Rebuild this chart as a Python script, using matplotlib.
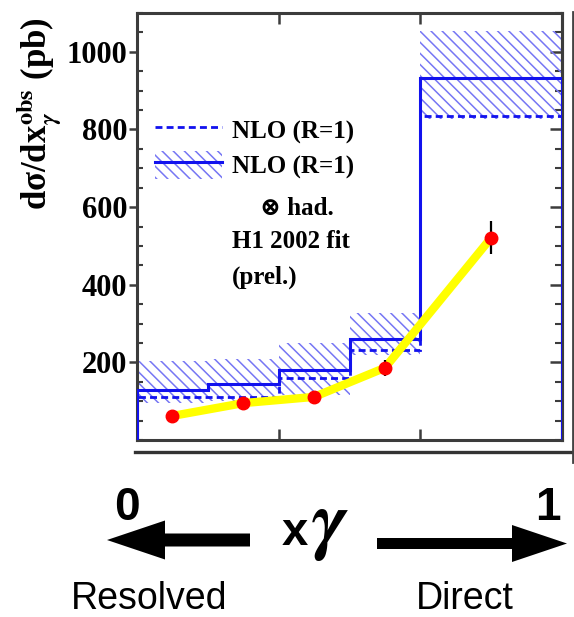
import matplotlib
matplotlib.use("Agg")
import matplotlib.pyplot as plt
from matplotlib import font_manager
from matplotlib.lines import Line2D
from matplotlib.patches import Patch, FancyArrow
from matplotlib.ticker import MultipleLocator

# x_gamma bins and NLO predictions (pb)
bin_edges = [0.1, 0.25, 0.4, 0.55, 0.7, 1.0]
nlo_had = [130, 144, 181, 260, 932]      # NLO x had. (solid)
nlo = [110, 112, 160, 232, 834]          # NLO (dashed)
band_hi = [204, 208, 250, 328, 1053]     # scale uncertainty band
band_lo = [96, 100, 116, 219, 826]

# H1 2002 fit points
fit_x = [0.175, 0.325, 0.475, 0.625, 0.85]
fit_y = [62, 95, 111, 186, 521]
fit_err = [6, 7, 8, 20, 42]

y_major = [200, 400, 600, 800, 1000]
x_major = [0.4, 0.7]

legend_labels = ["NLO (R=1)", "NLO (R=1)"]
extra_lines = ["\u2297 had.", "H1 2002 fit", "(prel.)"]

BLUE = "#1212ee"
HATCH = "#7676f4"
FRAME = "#3c3c3c"
SERIF = ["Liberation Serif", "DejaVu Serif"]

# condensed sans for the bottom annotation if available
names = {f.name for f in font_manager.fontManager.ttflist}
narrow = "Liberation Sans Narrow" in names
SANS = "Liberation Sans Narrow" if narrow else "Liberation Sans"

plt.rcParams["font.family"] = SERIF
plt.rcParams["font.weight"] = "bold"
plt.rcParams["mathtext.fontset"] = "stix"
plt.rcParams["hatch.linewidth"] = 1.1

fig = plt.figure(figsize=(5.74, 6.17), dpi=100)
ax = fig.add_axes([137 / 574, 1 - 440 / 617, 425 / 574, 427 / 617])

# uncertainty band, dashed NLO, solid NLO x had.
ax.stairs(band_hi, bin_edges, baseline=band_lo, fill=True, facecolor="none",
          edgecolor=HATCH, hatch="\\\\\\", lw=0, zorder=1)
ax.stairs(nlo, bin_edges, baseline=0, color=BLUE, lw=2.0,
          ls=(0, (2.5, 1.5)), zorder=2)
ax.stairs(nlo_had, bin_edges, baseline=0, color=BLUE, lw=2.2, zorder=3)

# fit curve + points
ax.plot(fit_x, fit_y, color="#ffff00", lw=6, solid_capstyle="round", zorder=4)
ax.errorbar(fit_x, fit_y, yerr=fit_err, fmt="o", color="red", ms=9,
            ecolor="black", elinewidth=1.6, capsize=0, zorder=5)

ax.set_xlim(bin_edges[0], bin_edges[-1])
ax.set_ylim(0, 1100)
ax.set_xticks(x_major)
ax.set_yticks(y_major)
ax.yaxis.set_minor_locator(MultipleLocator(50))
ax.tick_params(axis="x", direction="in", length=8, width=1.8, top=True,
               labelbottom=False, color=FRAME)
ax.tick_params(axis="y", which="major", direction="out", length=6, width=1.8,
               pad=1, labelsize=22, color=FRAME)
ax.tick_params(axis="y", which="minor", direction="in", length=4.5, width=1.5,
               color=FRAME)
for s in ax.spines.values():
    s.set_linewidth(2.2)
    s.set_color(FRAME)

sec = ax.secondary_yaxis("right")
sec.set_yticks(y_major)
sec.yaxis.set_minor_locator(MultipleLocator(50))
sec.tick_params(which="major", direction="in", length=9, width=1.8,
                labelright=False, color=FRAME)
sec.tick_params(which="minor", direction="in", length=5, width=1.5, color=FRAME)
sec.spines["right"].set_linewidth(2.2)
sec.spines["right"].set_color(FRAME)

ax.set_ylabel("d\u03c3/dx$_{\\gamma}^{\\mathbf{obs}}$ (pb)", fontsize=25,
              fontweight="bold")
ax.yaxis.set_label_coords(-0.172, 0.765)

# legend
h1 = Line2D([], [], color=BLUE, lw=2.0, ls=(0, (2.5, 1.5)))
h2 = (Patch(facecolor="none", edgecolor=HATCH, hatch="\\\\\\", lw=0),
      Line2D([], [], color=BLUE, lw=2.2))
ax.legend([h1, h2], legend_labels, loc="upper left",
          bbox_to_anchor=(0.042, 0.76), frameon=False,
          prop=dict(family=SERIF, weight="bold", size=18),
          handlelength=2.7, handleheight=1.4, handletextpad=0.4,
          labelspacing=0.25, borderaxespad=0, borderpad=0)

txt_kw = dict(transform=ax.transAxes, fontsize=18, fontweight="bold",
              va="center")
ax.text(0.376, 0.543, extra_lines[0], ha="center", **txt_kw)
ax.text(0.224, 0.464, extra_lines[1], ha="left", **txt_kw)
ax.text(0.224, 0.382, extra_lines[2], ha="left", **txt_kw)

# overlay in pixel coordinates for the frame remnants and bottom annotation
ov = fig.add_axes([0, 0, 1, 1])
ov.set_xlim(0, 574)
ov.set_ylim(617, 0)
ov.axis("off")
ov.plot([135, 574], [452, 452], color="#333333", lw=2.4)
ov.plot([572.5, 572.5], [12, 462], color="#444444", lw=2.0)

ov.add_patch(FancyArrow(250, 540, -143, 0, width=13, head_width=39,
                        head_length=58, length_includes_head=True,
                        color="black", lw=0))
ov.add_patch(FancyArrow(377, 543.5, 190, 0, width=11, head_width=37,
                        head_length=55, length_includes_head=True,
                        color="black", lw=0))

num_size = 40 if narrow else 33
word_size = 33 if narrow else 27
ov.text(127, 520, "0", ha="center", va="baseline", family=SANS,
        fontweight="bold", fontsize=num_size)
ov.text(548, 520, "1", ha="center", va="baseline", family=SANS,
        fontweight="bold", fontsize=num_size)
ov.text(282, 545, "x", ha="left", va="baseline", family="Liberation Sans",
        fontweight="bold", fontsize=34)
ov.text(311, 545, "$\\gamma$", ha="left", va="baseline", fontsize=56)
ov.text(149, 609, "Resolved", ha="center", va="baseline", family=SANS,
        fontweight="normal", fontsize=word_size)
ov.text(465, 609, "Direct", ha="center", va="baseline", family=SANS,
        fontweight="normal", fontsize=word_size)

fig.savefig("out.png", dpi=100)
